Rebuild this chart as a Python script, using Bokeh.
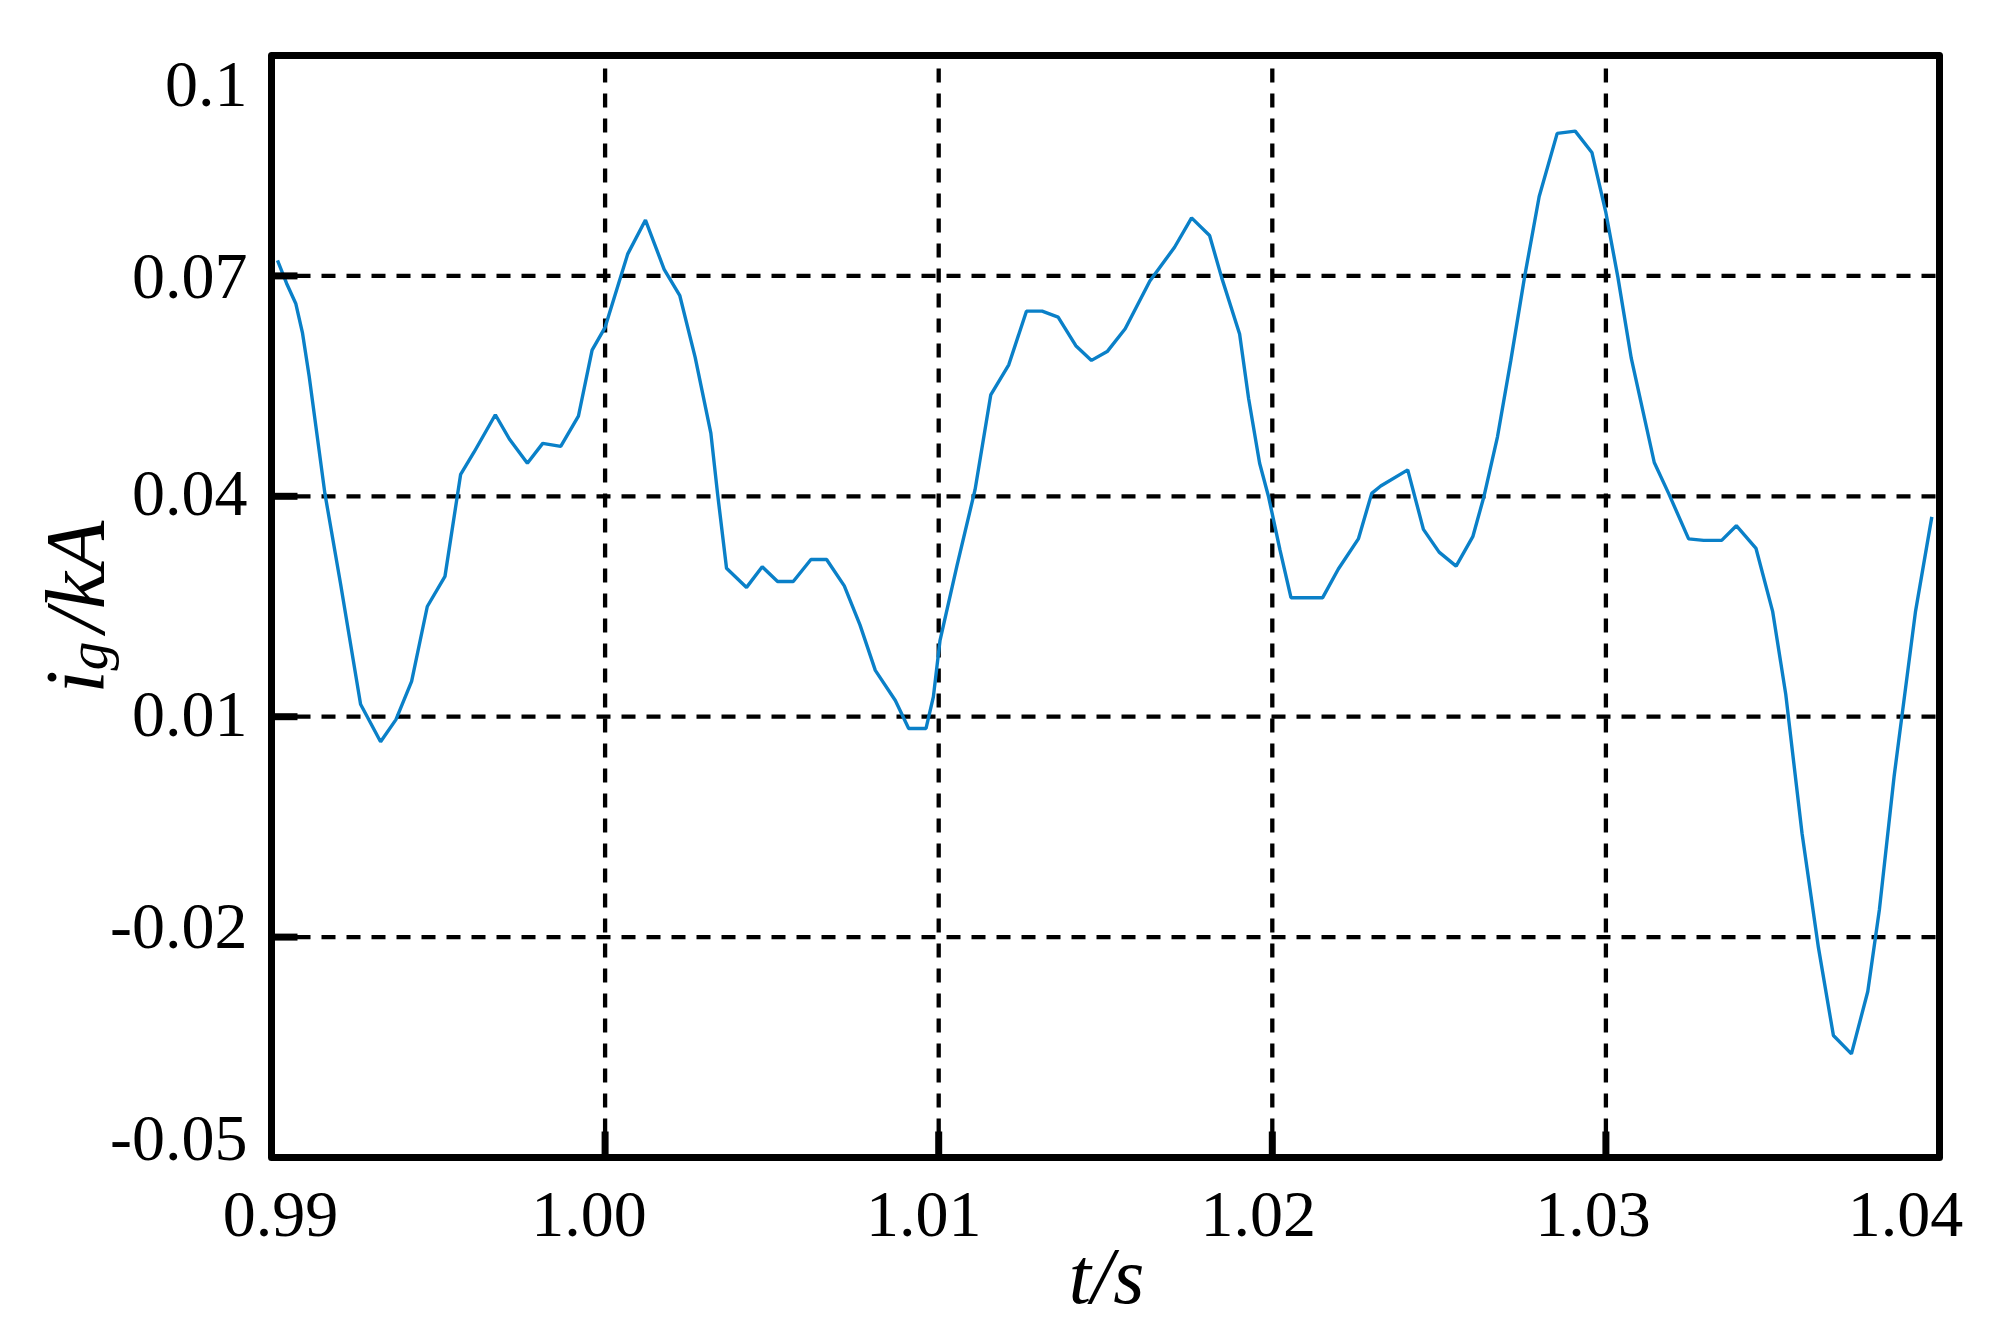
import math
from bokeh.plotting import figure
from bokeh.models import Range1d
from bokeh.core.properties import value
from bokeh.embed import file_html
from bokeh.resources import INLINE

# ---- data ----
t = [0.99018, 0.99045, 0.99073, 0.99093, 0.99113, 0.9916, 0.99207, 0.99267, 0.99327, 0.99373,
     0.9942, 0.99467, 0.9952, 0.99567, 0.99607, 0.99671, 0.99713, 0.99767, 0.99813, 0.99867,
     0.9992, 0.99961, 1.0000, 1.00068, 1.00121, 1.00177, 1.00224, 1.0027, 1.00317, 1.00337,
     1.00364, 1.00424, 1.00471, 1.00517, 1.00564, 1.00617, 1.00664, 1.00717, 1.00764, 1.0081,
     1.0087, 1.0091, 1.00962, 1.00984, 1.01004, 1.01055, 1.01109, 1.01156, 1.0121, 1.01263,
     1.0131, 1.01358, 1.01411, 1.01458, 1.01505, 1.01559, 1.01633, 1.01707, 1.01758, 1.01812,
     1.01848, 1.01902, 1.01929, 1.01962, 1.01989, 1.02023, 1.02056, 1.02151, 1.02198, 1.02258,
     1.02298, 1.02325, 1.02406, 1.02453, 1.025, 1.02551, 1.02601, 1.02634, 1.02675, 1.02715,
     1.02756, 1.028, 1.02854, 1.02908, 1.02958, 1.03, 1.03036, 1.03076, 1.03145, 1.03189,
     1.03248, 1.03293, 1.03347, 1.03391, 1.0345, 1.035, 1.03539, 1.03588, 1.03637, 1.03682,
     1.03736, 1.03785, 1.0382, 1.03864, 1.03928, 1.03977]
ig = [0.0721, 0.0690, 0.0662, 0.0622, 0.0563, 0.0404, 0.0281, 0.0117, 0.0066, 0.0096,
      0.0148, 0.0250, 0.0291, 0.0430, 0.0460, 0.0511, 0.0478, 0.0445, 0.0472, 0.0468,
      0.0509, 0.0599, 0.0630, 0.0730, 0.0776, 0.0709, 0.0673, 0.0589, 0.0486, 0.0404,
      0.0302, 0.0276, 0.0304, 0.0284, 0.0284, 0.0314, 0.0314, 0.0278, 0.0225, 0.0163,
      0.0122, 0.0084, 0.0084, 0.0127, 0.0204, 0.0306, 0.0409, 0.0538, 0.0579, 0.0652,
      0.0652, 0.0644, 0.0605, 0.0585, 0.0597, 0.0628, 0.0693, 0.0739, 0.0779, 0.0755,
      0.0698, 0.0621, 0.0533, 0.0445, 0.0399, 0.0327, 0.0262, 0.0262, 0.0301, 0.0342,
      0.0404, 0.0414, 0.0436, 0.0355, 0.0324, 0.0305, 0.0345, 0.0399, 0.0481, 0.0585,
      0.0698, 0.0808, 0.0894, 0.0897, 0.0868, 0.0786, 0.0698, 0.0588, 0.0446, 0.0403,
      0.0342, 0.0340, 0.0340, 0.0360, 0.0329, 0.0243, 0.0131, -0.0059, -0.0214, -0.0334,
      -0.0359, -0.0274, -0.0162, 0.0019, 0.0243, 0.0372]

x_ticks = [0.99, 1.00, 1.01, 1.02, 1.03, 1.04]
x_tick_labels = ["0.99", "1.00", "1.01", "1.02", "1.03", "1.04"]
y_ticks = [0.1, 0.07, 0.04, 0.01, -0.02, -0.05]
y_tick_labels = ["0.1", "0.07", "0.04", "0.01", "-0.02", "-0.05"]
x_title = "t/s"
y_title_parts = ["i", "g", "/kA"]

# ---- layout / style ----
X0, X1 = x_ticks[0], x_ticks[-1]
Y0, Y1 = min(y_ticks), max(y_ticks)
W, H = 1983, 1323
F_LEFT, F_RIGHT, F_TOP, F_BOTTOM = 271, 1939, 55, 1157   # plot box in canvas pixels
kx = (F_RIGHT - F_LEFT) / (X1 - X0)
ky = (F_BOTTOM - F_TOP) / (Y1 - Y0)
x_range = Range1d(X0 - F_LEFT / kx, X1 + (W - F_RIGHT) / kx)
y_range = Range1d(Y0 - (H - F_BOTTOM) / ky, Y1 + F_TOP / ky)

x_label_dx = [9, -16, -15, -14, -13, -34]
y_label_dy = [29, 1, -3, -2, -11, -19]
FONT = value("Liberation Serif")

p = figure(width=W, height=H, output_backend="svg", toolbar_location=None,
           x_range=x_range, y_range=y_range,
           x_axis_location=None, y_axis_location=None,
           min_border=0, min_border_left=0, min_border_right=0,
           min_border_top=0, min_border_bottom=0)
p.grid.visible = False
p.outline_line_color = None
p.background_fill_color = "white"
p.border_fill_color = "white"

# dashed grid
p.segment(x0=x_ticks, y0=[Y0] * len(x_ticks), x1=x_ticks, y1=[Y1] * len(x_ticks),
          line_color="black", line_width=4.3, line_dash="14 11")
p.segment(x0=[X0] * len(y_ticks), y0=y_ticks, x1=[X1] * len(y_ticks), y1=y_ticks,
          line_color="black", line_width=4.3, line_dash="14 11")

# signal
p.line(t, ig, line_color="#0a80c8", line_width=3.4)

# box
p.quad(left=[X0], right=[X1], bottom=[Y0], top=[Y1], fill_color=None,
       line_color="black", line_width=7, line_join="round")

# inward ticks
p.ray(x=x_ticks, y=[Y0] * len(x_ticks), length=26, length_units="screen",
      angle=math.pi / 2, line_color="black", line_width=7)
p.ray(x=[X0] * len(y_ticks), y=y_ticks, length=26, length_units="screen",
      angle=0, line_color="black", line_width=7)

# tick labels
p.text(x=x_ticks, y=[Y0] * len(x_ticks), text=x_tick_labels, x_offset=x_label_dx, y_offset=57,
       text_align="center", text_baseline="alphabetic", text_font=FONT,
       text_font_size="66px", text_color="black")
p.text(x=[X0] * len(y_ticks), y=y_ticks, text=y_tick_labels, x_offset=-24, y_offset=y_label_dy,
       text_align="right", text_baseline="alphabetic", text_font=FONT,
       text_font_size="66px", text_color="black")

# axis titles
p.text(x=[(X0 + X1) / 2], y=[Y0], text=[x_title], x_offset=1, y_offset=118,
       text_align="center", text_baseline="alphabetic", text_font=FONT,
       text_font_style="italic", text_font_size="80px", text_color="black")
yc = (Y0 + Y1) / 2
p.text(x=[X0, X0, X0], y=[yc, yc, yc], text=y_title_parts,
       x_offset=[-196, -184, -196], y_offset=[87, 64, 26],
       angle=math.pi / 2, text_align="left", text_baseline="alphabetic", text_font=FONT,
       text_font_style="italic", text_font_size=["84px", "58px", "84px"], text_color="black")

open("out.html", "w").write(file_html(p, INLINE))
